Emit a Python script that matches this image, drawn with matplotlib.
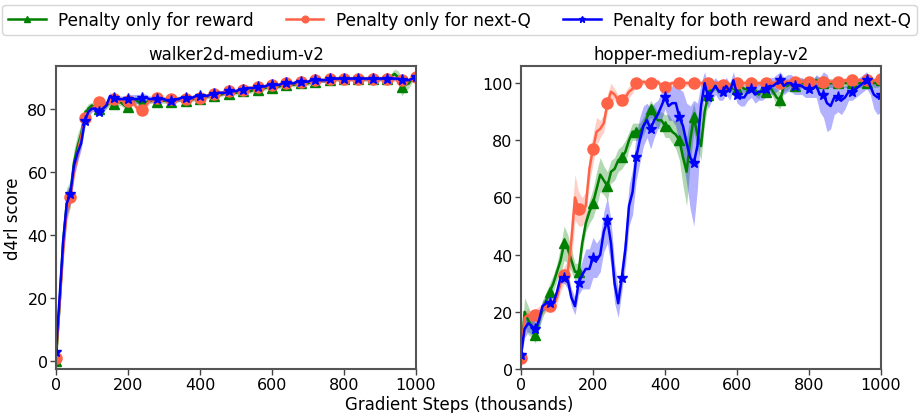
import matplotlib
matplotlib.use("Agg")
import matplotlib.pyplot as plt
import numpy as np

steps = list(range(0, 1001, 10))

labels = ["Penalty only for reward", "Penalty only for next-Q", "Penalty for both reward and next-Q"]
titles = ["walker2d-medium-v2", "hopper-medium-replay-v2"]

# ---------------- walker2d-medium-v2 ----------------
walker_reward = [0, 18, 38, 50, 53, 63, 68, 72, 78, 80, 81, 80, 80, 80, 81, 82, 81.5, 82, 82, 81,
                 80.5, 82, 83, 82, 81.5, 82, 82.5, 82.5, 82, 82.5, 82.5, 82.5, 82, 82.5, 83, 83, 82.5, 83, 83, 83.5,
                 83, 83.5, 84, 84, 84, 84.5, 84.5, 85, 84.5, 85, 85, 85.5, 85.5, 86, 85.5, 86, 86, 86.5, 86.5, 87,
                 86.5, 87, 87, 87.5, 87.5, 88, 87.5, 88, 88, 88.5, 88, 88.5, 88.5, 89, 89, 89, 89, 89, 89.5, 89.5,
                 89.5, 89.5, 89.5, 89.5, 89.5, 89.5, 89.5, 89.5, 89.5, 89.5, 89.5, 89.5, 89.5, 90, 91, 90, 87, 87.5, 88, 89.5,
                 90.5]
walker_nextq = [1, 18, 35, 48, 52, 60, 66, 71, 77, 79, 80, 81, 82, 82, 81.5, 82, 83, 83, 82.5, 82.5,
                82.5, 82, 81, 79.5, 79.5, 81, 82.5, 83, 83.5, 83, 83, 83, 83, 83, 83, 83, 83, 83, 83.5, 83.5,
                83.5, 84, 84, 84.5, 84.5, 85, 85, 85, 85.5, 85.5, 85.5, 86, 86, 86.5, 86.5, 86.5, 87, 87, 87, 87.5,
                87.5, 87.5, 87.5, 88, 88, 88, 88, 88.5, 88.5, 88.5, 88.5, 89, 89, 89, 89, 89, 89.5, 89.5, 89.5, 89.5,
                89.5, 89.5, 89.5, 89.5, 89.5, 89.5, 89.5, 89.5, 89.5, 89.5, 89.5, 89.5, 89.5, 89.5, 89.5, 89.5, 89, 89, 89, 89.5,
                90]
walker_both = [3, 20, 38, 50, 53, 62, 66, 69, 76, 79, 80, 80, 79, 80, 81, 84, 83.5, 83, 83, 83,
               83, 83, 83, 83, 83.5, 83.5, 83, 83, 83, 83, 83, 82.5, 82.5, 83, 83, 83.5, 83.5, 83, 83.5, 84,
               84, 84, 84, 84.5, 84.5, 85, 85, 85, 85.5, 85.5, 85.5, 86, 86, 86.5, 86.5, 86.5, 87, 87, 87, 87.5,
               87.5, 87.5, 87.5, 88, 88, 88, 88, 88.5, 88.5, 88.5, 88.5, 89, 89, 89, 89, 89, 89.5, 89.5, 89.5, 89.5,
               89.5, 89.5, 89.5, 89.5, 89.5, 89.5, 89.5, 89.5, 89.5, 89.5, 89.5, 89.5, 89.5, 89.5, 89.5, 89.5, 89, 89, 89, 89.5,
               90]
walker_reward_sd = [1, 4, 5, 5, 4, 4, 4, 3, 2, 1.5, 1, 1, 1, 1, 1, 1, 1, 1, 1, 1,
                    1, 1, 1, 1, 1, 0.8, 0.8, 0.8, 0.8, 0.8, 0.8, 0.8, 0.8, 0.8, 0.8, 0.8, 0.8, 0.8, 0.8, 0.8,
                    0.7, 0.7, 0.7, 0.7, 0.7, 0.7, 0.7, 0.7, 0.7, 0.7, 0.7, 0.7, 0.7, 0.7, 0.7, 0.7, 0.7, 0.7, 0.7, 0.7,
                    0.7, 0.7, 0.7, 0.7, 0.7, 0.7, 0.7, 0.7, 0.7, 0.7, 0.7, 0.7, 0.7, 0.7, 0.7, 0.7, 0.7, 0.7, 0.7, 0.7,
                    0.7, 0.7, 0.7, 0.7, 0.7, 0.7, 0.7, 0.7, 0.7, 0.7, 0.7, 0.7, 0.7, 1, 1.5, 2, 3, 2, 1.5, 1,
                    1]
walker_nextq_sd = [1, 3, 4, 4, 3, 3, 3, 2, 2, 1.5, 1, 1, 1, 1, 1, 1, 1, 1, 1, 1,
                   1, 1, 1, 1, 1, 1, 1, 0.8, 0.8, 0.8, 0.8, 0.8, 0.8, 0.8, 0.8, 0.8, 0.8, 0.8, 0.8, 0.8,
                   0.7, 0.7, 0.7, 0.7, 0.7, 0.7, 0.7, 0.7, 0.7, 0.7, 0.7, 0.7, 0.7, 0.7, 0.7, 0.7, 0.7, 0.7, 0.7, 0.7,
                   0.7, 0.7, 0.7, 0.7, 0.7, 0.7, 0.7, 0.7, 0.7, 0.7, 0.7, 0.7, 0.7, 0.7, 0.7, 0.7, 0.7, 0.7, 0.7, 0.7,
                   0.7, 0.7, 0.7, 0.7, 0.7, 0.7, 0.7, 0.7, 0.7, 0.7, 0.7, 0.7, 0.7, 0.7, 0.7, 0.7, 0.7, 0.7, 0.7, 0.7,
                   0.7]
walker_both_sd = [1, 3, 4, 4, 3, 3, 3, 2, 2, 1.5, 1, 1, 1, 1, 1, 1, 1, 1, 1, 1,
                  1.5, 1.5, 1.5, 1.5, 1.5, 1, 1, 0.8, 0.8, 0.8, 0.8, 0.8, 0.8, 0.8, 0.8, 0.8, 0.8, 0.8, 0.8, 0.8,
                  0.7, 0.7, 0.7, 0.7, 0.7, 0.7, 0.7, 0.7, 0.7, 0.7, 0.7, 0.7, 0.7, 0.7, 0.7, 0.7, 0.7, 0.7, 0.7, 0.7,
                  0.7, 0.7, 0.7, 0.7, 0.7, 0.7, 0.7, 0.7, 0.7, 0.7, 0.7, 0.7, 0.7, 0.7, 0.7, 0.7, 0.7, 0.7, 0.7, 0.7,
                  0.7, 0.7, 0.7, 0.7, 0.7, 0.7, 0.7, 0.7, 0.7, 0.7, 0.7, 0.7, 0.7, 0.7, 0.7, 0.7, 0.7, 0.7, 0.7, 0.7,
                  0.7]

# ---------------- hopper-medium-replay-v2 ----------------
hopper_reward = [5, 20, 17, 15, 12, 17, 21, 24, 27, 30, 34, 38, 44, 42, 38, 34, 34, 44, 51, 55,
                 58, 63, 68, 66, 64, 69, 70, 73, 74, 76, 80, 83, 83, 83, 85, 88, 91, 89, 87, 87,
                 85, 85, 83, 82, 80, 74, 69, 80, 88, 82, 78, 90, 96, 99, 99, 97, 99, 98, 99, 98,
                 98, 99, 98, 98, 99, 97, 96, 98, 97, 99, 97, 95, 94, 99, 99, 100, 99, 99, 100, 100,
                 100, 100, 101, 100, 100, 100, 100, 100, 100, 100, 100, 100, 100, 100, 100, 100, 100, 101, 100, 100,
                 101]
hopper_nextq = [4, 18, 19, 17, 19, 20, 21, 22, 22, 22, 25, 30, 33, 34, 45, 60, 56, 55, 57, 70,
                77, 83, 84, 86, 93, 97, 96, 94, 94, 95, 97, 98, 100, 100, 100.5, 100, 100, 100, 100.5, 99,
                98.5, 99.5, 100, 100, 100, 100, 100, 100, 100, 100, 100, 100, 100, 100, 100, 100, 99.5, 99, 99, 99.5,
                100, 100, 100, 100, 100, 100, 100, 100, 100, 100, 100, 100, 100, 100.5, 100.5, 100.5, 100.5, 100.5, 100.5, 100.5,
                100.5, 100.5, 100.5, 100.5, 100.5, 100.5, 100.5, 100.5, 100.5, 100.5, 101, 101, 101, 101, 101, 101, 101, 101, 101, 101,
                101.5]
hopper_both = [5, 14, 16, 15, 14, 17, 22, 23, 23, 23, 27, 32, 32, 31, 25, 22, 30, 33, 35, 35,
               39, 38, 40, 48, 52, 44, 30, 23, 32, 42, 57, 62, 74, 80, 85, 87, 84, 87, 89, 92,
               95, 92, 93, 93, 88, 85, 79, 74, 72, 78, 92, 100, 95, 97, 99, 97, 97, 99, 97, 101,
               96, 95, 95, 97, 98, 96, 97, 97, 98, 99, 99, 100, 101, 99, 100, 100, 99, 99, 99, 98,
               98, 98, 99, 96, 96, 93, 92, 95, 95, 94, 95, 97, 97, 98, 99, 100, 101, 99, 96, 95,
               96]
hopper_reward_sd = [2, 5, 5, 4, 3, 3, 3, 3, 3, 3, 3, 5, 6, 5, 4, 3, 3, 3, 3, 4,
                    5, 6, 6, 5, 5, 4, 4, 4, 4, 4, 3, 3, 3, 3, 3, 3, 3, 3, 3, 3,
                    4, 4, 4, 5, 7, 10, 12, 8, 5, 5, 5, 4, 3, 2, 1.5, 1.5, 1.5, 1.5, 1.5, 1.5,
                    1.5, 1.5, 1.5, 1.5, 1.5, 1.5, 1.5, 1.5, 1.5, 1.5, 2, 3, 3, 2, 1.5, 1.5, 1.5, 1.5, 1.5, 1.5,
                    1.5, 1.5, 1.5, 1.5, 1.5, 1.5, 1.5, 1.5, 1.5, 1.5, 1.5, 1.5, 1.5, 1.5, 1.5, 1.5, 1.5, 1.5, 1.5, 1.5,
                    1.5]
hopper_nextq_sd = [1, 2, 2, 2, 2, 2, 2, 2, 2, 2, 2, 3, 3, 4, 8, 8, 6, 5, 5, 5,
                   5, 5, 3, 3, 3, 3, 2, 2, 2, 2, 2, 1.5, 1, 1, 1, 1, 1, 1, 1, 1,
                   1, 1, 1, 1, 1, 1, 1, 1, 1, 1, 1, 1, 1, 1, 1, 1, 1, 1, 1, 1,
                   1, 1, 1, 1, 1, 1, 1, 1, 1, 1, 1, 1, 1, 1, 1, 1, 1, 1, 1, 1,
                   1, 1, 1, 1, 1, 1, 1, 1, 1, 1, 1, 1, 1, 1, 1, 1, 1, 1, 1, 1,
                   1]
hopper_both_sd = [2, 3, 3, 3, 3, 3, 2, 2, 2, 2, 2, 2, 2, 3, 3, 3, 4, 5, 7, 7,
                  7, 6, 6, 7, 8, 8, 7, 5, 5, 6, 7, 8, 8, 8, 7, 6, 7, 6, 5, 5,
                  4, 5, 6, 8, 10, 12, 14, 18, 22, 15, 8, 4, 4, 3, 3, 3, 3, 3, 3, 3,
                  3, 3, 3, 3, 3, 3, 3, 3, 3, 3, 3, 3, 3, 3, 3, 3, 3, 3, 3, 3,
                  3, 3, 4, 6, 8, 10, 8, 6, 5, 5, 4, 3, 3, 3, 3, 3, 3, 3, 5, 6,
                  6]

colors = ["green", "tomato", "blue"]
markers = ["^", "o", "*"]
msizes = [7, 8, 8]

panels = [
    ([walker_reward, walker_nextq, walker_both], [walker_reward_sd, walker_nextq_sd, walker_both_sd], (-2.5, 93.5), [0, 20, 40, 60, 80]),
    ([hopper_reward, hopper_nextq, hopper_both], [hopper_reward_sd, hopper_nextq_sd, hopper_both_sd], (0, 106), [0, 20, 40, 60, 80, 100]),
]

fig = plt.figure(figsize=(9.19, 4.14), dpi=100)
axes = [fig.add_axes([0.0609, 0.1063, 0.3918, 0.7319]),
        fig.add_axes([0.5669, 0.1063, 0.3918, 0.7319])]

x = np.array(steps)
handles = []
for ax, (series, sds, ylim, yticks), title in zip(axes, panels, titles):
    for s, sd, c, m, ms, lab in zip(series, sds, colors, markers, msizes, labels):
        s = np.array(s, dtype=float)
        sd = np.array(sd, dtype=float)
        ax.fill_between(x, s - sd, s + sd, color=c, alpha=0.3, linewidth=0)
        h, = ax.plot(x, s, color=c, marker=m, markersize=ms, markevery=4, linewidth=1.8, label=lab)
        if ax is axes[0]:
            handles.append(h)
    ax.set_xlim(0, 1000)
    ax.set_ylim(*ylim)
    ax.set_yticks(yticks)
    ax.set_xticks([0, 200, 400, 600, 800, 1000])
    ax.set_title(title, fontsize=12, pad=5)
    ax.tick_params(labelsize=11.5, length=4, width=1, color="#444444", pad=2)
    for sp in ax.spines.values():
        sp.set_color("#555555")
        sp.set_linewidth(1.5)

axes[0].set_ylabel("d4rl score", fontsize=12, labelpad=4)
fig.text(0.5, 0.0, "Gradient Steps (thousands)", ha="center", va="bottom", fontsize=12)

fig.legend(handles, labels, loc="upper center", bbox_to_anchor=(0.5, 0.986), ncol=3,
           fontsize=12.2, frameon=True, handlelength=2.2, handletextpad=0.71,
           columnspacing=1.95, borderaxespad=0.0, borderpad=0.35, markerscale=0.6)

fig.savefig("out.png", dpi=100)
